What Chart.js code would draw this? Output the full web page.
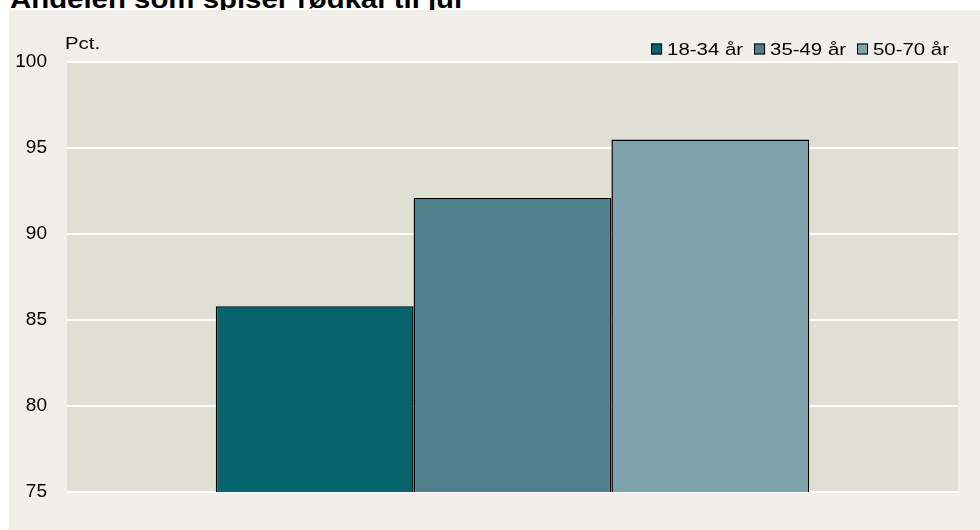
<!DOCTYPE html>
<html>
<head>
<meta charset="utf-8">
<script src="https://cdn.jsdelivr.net/npm/chart.js@4.4.1/dist/chart.umd.min.js"></script>
<style>
  html, body { margin: 0; padding: 0; background: #ffffff; overflow: hidden; }
  #title {
    position: absolute; left: 10px; top: -14px; margin: 0;
    font: bold 26px "Liberation Sans", Arial, sans-serif; line-height: 26px;
    color: #000; white-space: nowrap;
    transform: scaleX(1.13); transform-origin: left top;
  }
  #panel {
    position: absolute; left: 9px; top: 10px; width: 971px; height: 520px;
    background: #f0efe9;
  }
</style>
</head>
<body>
<div id="title">Andelen som spiser rødkål til jul</div>
<div id="panel"><canvas id="chart" width="971" height="520"></canvas></div>
<script>
// Data
const categories = [''];
const seriesLabels = ['18-34 år', '35-49 år', '50-70 år'];
const seriesValues = [85.8, 92.1, 95.5];
const seriesColors = ['#08646f', '#4f7f8c', '#7fa3ad'];
const yTicks = { min: 75, max: 100, step: 5 };
const unitLabel = 'Pct.';

const FONT = '"Liberation Sans", Arial, sans-serif';
const STRETCH = 1.2;

// Plot area background
const plotBackground = {
    id: 'plotBackground',
    beforeDraw(chart) {
        const { ctx, chartArea: a } = chart;
        ctx.save();
        ctx.fillStyle = '#e0dfd4';
        ctx.fillRect(a.left, a.top, a.right - a.left, a.bottom - a.top);
        ctx.restore();
    }
};

// Unit label and legend drawn at the top
const topLabels = {
    id: 'topLabels',
    afterDraw(chart) {
        const ctx = chart.ctx;
        const a = chart.chartArea;
        ctx.save();
        ctx.fillStyle = '#000';
        ctx.textBaseline = 'alphabetic';
        ctx.font = '17px ' + FONT;
        ctx.save();
        ctx.translate(a.left - 2, 39);
        ctx.scale(STRETCH, 1);
        ctx.fillText(unitLabel, 0, 0);
        ctx.restore();

        // legend, right aligned
        const box = 11, gapText = 5, gapItem = 11, cy = 39;
        ctx.font = '17px ' + FONT;
        ctx.textBaseline = 'middle';
        const items = chart.data.datasets.map(ds => ({
            label: ds.label,
            color: ds.backgroundColor,
            w: ctx.measureText(ds.label).width * STRETCH
        }));
        let x = a.right - 9;
        for (let i = items.length - 1; i >= 0; i--) {
            const it = items[i];
            const tx = x - it.w;
            const bx = tx - gapText - box;
            ctx.fillStyle = it.color;
            ctx.fillRect(bx, cy - box / 2, box, box);
            ctx.strokeStyle = '#000';
            ctx.lineWidth = 1;
            ctx.strokeRect(bx + 0.5, cy - box / 2 + 0.5, box - 1, box - 1);
            ctx.fillStyle = '#000';
            ctx.save();
            ctx.translate(tx, cy + 1);
            ctx.scale(STRETCH, 1);
            ctx.fillText(it.label, 0, 0);
            ctx.restore();
            x = bx - gapItem;
        }
        ctx.restore();
    }
};

const ctx = document.getElementById('chart').getContext('2d');
const chart = new Chart(ctx, {
    type: 'bar',
    data: {
        labels: categories,
        datasets: seriesLabels.map((label, i) => ({
            label: label,
            data: [seriesValues[i]],
            backgroundColor: seriesColors[i],
            borderColor: '#000000',
            borderWidth: 1.5,
            borderSkipped: false
        }))
    },
    options: {
        responsive: false,
        animation: false,
        devicePixelRatio: 1,
        layout: { padding: { left: 0, right: 22, top: 52, bottom: 38 } },
        datasets: {
            bar: { categoryPercentage: 0.666, barPercentage: 1.0 }
        },
        plugins: {
            legend: { display: false },
            tooltip: { enabled: false },
            title: { display: false }
        },
        scales: {
            x: { display: false },
            y: {
                min: yTicks.min,
                max: yTicks.max,
                afterFit(scale) { scale.width = 58; },
                border: { display: false },
                grid: { color: '#ffffff', lineWidth: 2, drawTicks: false },
                ticks: {
                    stepSize: yTicks.step,
                    padding: 20,
                    color: '#000000',
                    font: { family: FONT, size: 19 }
                }
            }
        }
    },
    plugins: [plotBackground, topLabels]
});
</script>
</body>
</html>
